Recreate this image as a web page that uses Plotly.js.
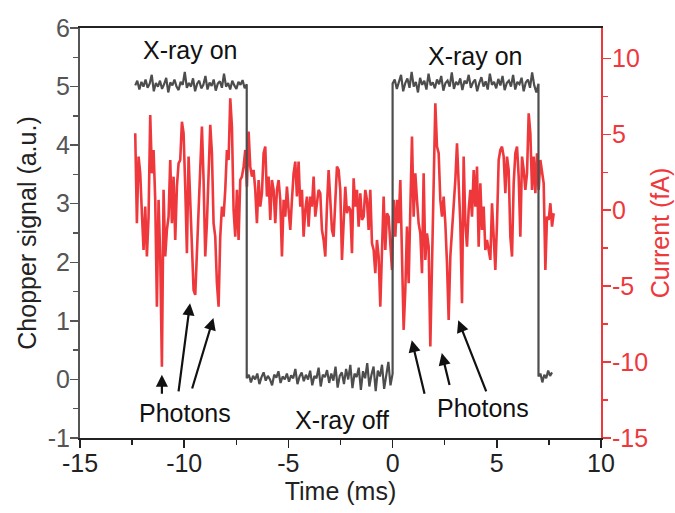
<!DOCTYPE html>
<html>
<head>
<meta charset="utf-8">
<script src="https://cdn.plot.ly/plotly-3.0.1.min.js"></script>
<style>html,body{margin:0;padding:0;background:#fff;}#chart{width:675px;height:513px;}</style>
</head>
<body>
<div id="chart"></div>
<script>
// ---- Current (fA), sampled every 0.08 ms starting at -12.35 ms ----
const currentStart = -12.35;
const currentStep = 0.08;
const currentOn1 = [5.07,-0.86,3.53,2.43,-0.20,-2.62,0.24,-3.05,-0.42,6.27,2.43,3.97,0.68,-6.35,0.68,-3.05,-10.3,1.34,-3.05,-1.30,
  -0.42,3.31,-0.86,2.21,-1.96,1.55,3.09,3.31,5.83,5.07,1.55,-2.83,3.53,0.24,-1.96,-5.25,-5.58,-2.62,0.24,3.53,
  5.51,1.99,-3.05,-0.86,2.43,5.62,3.75,-0.86,-1.74,-4.81,-6.35,-1.74,0.24,-0.42,1.34,3.97,3.31,7.37,5.51,0.02,
  -1.74,1.34,-1.96,1.99,2.21,2.87,3.97,1.55];
const currentOff = [5.18,2.87,2.21,2.65,1.34,-0.86,1.99,0.24,1.12,3.75,4.19,0.90,2.21,-0.64,1.99,1.34,-0.86,1.34,1.99,0.68,
  -3.05,0.68,-0.42,1.55,0.02,-1.30,0.68,2.43,3.20,0.90,3.20,0.24,1.34,-1.74,0.02,0.90,-1.08,0.90,0.24,2.21,
  -0.42,0.68,1.34,1.12,-1.30,-1.96,-3.05,0.24,2.65,0.68,-1.30,-1.74,0.68,2.87,2.65,1.34,-3.27,-0.42,1.55,-0.20,
  0.24,0.02,-2.83,2.10,0.24,1.34,-1.08,1.12,-0.64,-0.42,1.34,0.68,-1.30,1.34,-2.18,-2.62,-4.15,-1.96,-3.05,-6.35,
  -2.40,0.90,-2.62,-0.20,-0.42,-2.40,-3.93];
const currentOn2 = [0.68,-1.74,0.68,-0.86,1.99,-3.05,-7.88,-5.25,-1.08,-4.81,-0.86,4.85,-0.42,2.43,0.68,-0.86,-1.52,-4.15,2.43,-3.27,
  -1.52,-2.40,-8.98,-3.49,2.43,7.04,4.19,3.75,0.68,-0.42,0.90,-0.86,-3.49,-7.22,-3.05,-1.52,0.24,1.99,4.41,1.77,
  -0.86,-6.13,3.53,-0.86,-2.40,0.02,1.34,-0.42,2.65,0.24,2.87,-2.40,1.77,-1.30,0.24,-2.62,-1.96,-2.62,-3.27,0.46,
  -1.96,-3.93,-0.86,3.31,3.97,4.19,3.53,1.12,3.53,2.65,-1.74,-3.05,1.77,3.75,4.19,2.21,-1.74,3.53,2.65,1.34,
  2.43,6.38,5.07,1.34,3.53,1.12,3.75,1.34,3.31,2.43,1.77,-3.93,-0.42,-0.64,0.46,-1.08,-0.20];

// ---- Chopper signal (a.u.), four segments with their start / end times (ms) ----
const chopperOn1Span = [-12.35, -7.0];
const chopperOn1 = [5.02,5.10,4.95,5.08,5.00,5.12,4.98,5.05,5.20,4.92,5.06,5.00,5.10,4.96,5.04,5.15,4.90,5.07,5.02,5.12,
  5.00,4.94,5.08,5.03,5.25,4.98,5.06,5.00,5.14,4.92,5.05,5.10,4.97,5.03,5.18,4.95,5.07,5.01,5.12,4.93,
  5.05,5.09,4.98,5.22,5.00,5.06,4.95,5.10,5.02,4.96,5.08,5.03,5.11,4.97,5.04];
const chopperOff1Span = [-7.0, 0.0];
const chopperOff1 = [0.02,0.08,-0.05,0.06,0.00,0.10,-0.08,0.04,0.12,-0.02,0.06,0.00,-0.10,0.08,0.03,0.14,-0.06,0.05,0.00,0.10,
  -0.04,0.07,0.02,0.18,-0.08,0.05,0.12,-0.03,0.08,0.00,0.15,-0.10,0.06,0.02,0.20,-0.12,0.08,0.04,0.16,-0.06,
  0.10,-0.02,0.22,-0.14,0.06,0.12,-0.08,0.18,0.00,0.25,-0.15,0.10,0.04,0.20,-0.18,0.14,0.02,0.28,-0.12,0.08,
  0.22,-0.20,0.15,0.05,0.25,-0.16,0.12,0.30,-0.10,0.10];
const chopperOn2Span = [0.0, 7.0];
const chopperOn2 = [5.05,5.12,4.96,5.08,5.20,4.92,5.06,5.14,4.98,5.25,5.00,5.08,4.90,5.15,5.03,5.10,4.95,5.22,5.02,5.07,
  4.97,5.12,5.04,5.18,4.93,5.06,5.10,5.00,5.24,4.96,5.08,5.03,5.14,4.94,5.10,5.05,5.20,4.98,5.07,5.12,
  4.92,5.06,5.16,5.00,5.09,4.95,5.22,5.03,5.08,4.97,5.13,5.02,5.18,4.94,5.06,5.10,5.00,5.20,4.95,5.08,
  5.04,5.15,4.92,5.07,5.12,4.98,5.24,5.02,4.90,5.05];
const chopperOff2Span = [7.0, 7.65];
const chopperOff2 = [0.05,0.10,-0.05,0.08,0.02,0.15,0.06,0.12];

// ---- tick labels (plain hyphen minus as in the original) ----
const xTicks = [-15, -10, -5, 0, 5, 10];
const xTickText = ['-15', '-10', '-5', '0', '5', '10'];
const yTicks = [-1, 0, 1, 2, 3, 4, 5, 6];
const yTickText = ['-1', '0', '1', '2', '3', '4', '5', '6'];
const y2Ticks = [-15, -10, -5, 0, 5, 10];
const y2TickText = ['-15', '-10', '-5', '0', '5', '10'];

// ---- labels ----
const xTitle = 'Time (ms)';
const yTitle = 'Chopper signal (a.u.)';
const y2Title = 'Current (fA)';
const onLabel = 'X-ray on';
const offLabel = 'X-ray off';
const photonLabel = 'Photons';

// build arrays
const currentY = currentOn1.concat(currentOff, currentOn2);
const currentX = currentY.map((_, i) => currentStart + i * currentStep);
function spanTimes(span, vals) {
  const n = vals.length;
  return vals.map((_, i) => span[0] + i * (span[1] - span[0]) / (n - 1));
}
const chopX = [].concat(spanTimes(chopperOn1Span, chopperOn1), spanTimes(chopperOff1Span, chopperOff1),
  spanTimes(chopperOn2Span, chopperOn2), spanTimes(chopperOff2Span, chopperOff2));
const chopY = [].concat(chopperOn1, chopperOff1, chopperOn2, chopperOff2);

const RED = 'rgb(238,56,60)';
const GRAY = '#4d4d4d';
const FONT = 'Liberation Sans, Arial, sans-serif';
const FS = 25;

const traces = [
  {x: currentX, y: currentY, type: 'scatter', mode: 'lines', yaxis: 'y2',
   line: {color: RED, width: 2.6}, hoverinfo: 'skip'},
  {x: chopX, y: chopY, type: 'scatter', mode: 'lines', yaxis: 'y',
   line: {color: GRAY, width: 2.2}, hoverinfo: 'skip'}
];

function arrow(hx, hy, tx, ty) {
  return {x: hx, y: hy, ax: tx, ay: ty, xref: 'x', yref: 'y', axref: 'x', ayref: 'y',
    text: '', showarrow: true, arrowhead: 2, arrowsize: 1.1, arrowwidth: 2.2, arrowcolor: '#111'};
}
function label(txt, x, y) {
  return {x: x, y: y, xref: 'x', yref: 'y', text: txt, showarrow: false,
    font: {family: FONT, size: FS, color: '#111'}, xanchor: 'center', yanchor: 'middle'};
}

const layout = {
  width: 675, height: 513,
  margin: {l: 80, r: 74, t: 28, b: 75},
  paper_bgcolor: '#fff', plot_bgcolor: '#fff',
  showlegend: false,
  font: {family: FONT, size: FS, color: '#222'},
  xaxis: {
    range: [-15, 10], tickmode: 'array', tickvals: xTicks, ticktext: xTickText,
    ticks: 'outside', ticklen: 8, tickwidth: 1.5, tickcolor: '#222', ticklabelstandoff: -6,
    minor: {tickmode: 'linear', tick0: 0, dtick: 2.5, ticks: 'outside', ticklen: 5, tickcolor: '#222', tickwidth: 1.5},
    showline: true, linecolor: '#222', linewidth: 2, mirror: true, showgrid: false, zeroline: false,
    tickfont: {family: FONT, size: FS, color: '#222'},
    title: {text: xTitle, font: {family: FONT, size: FS, color: '#222'}, standoff: 2}
  },
  yaxis: {
    range: [-1, 6], tickmode: 'array', tickvals: yTicks, ticktext: yTickText,
    ticks: 'outside', ticklen: 8, tickwidth: 1.5, tickcolor: '#555', ticklabelstandoff: -5,
    minor: {tickmode: 'linear', tick0: 0, dtick: 0.5, ticks: 'outside', ticklen: 5, tickcolor: '#555', tickwidth: 1.5},
    showline: true, linecolor: '#555', linewidth: 2, showgrid: false, zeroline: false,
    side: 'left', overlaying: 'y2',
    tickfont: {family: FONT, size: FS, color: '#555'},
    title: {text: yTitle, font: {family: FONT, size: FS, color: '#222'}, standoff: 4}
  },
  yaxis2: {
    range: [-15, 12], tickmode: 'array', tickvals: y2Ticks, ticktext: y2TickText,
    ticks: 'outside', ticklen: 8, tickwidth: 1.5, tickcolor: RED, ticklabelstandoff: -4,
    minor: {tickmode: 'linear', tick0: 0, dtick: 2.5, ticks: 'outside', ticklen: 5, tickcolor: RED, tickwidth: 1.5},
    showline: true, linecolor: RED, linewidth: 2, showgrid: false, zeroline: false,
    side: 'right', anchor: 'x',
    tickfont: {family: FONT, size: FS, color: RED},
    title: {text: y2Title, font: {family: FONT, size: FS, color: RED}, standoff: 4}
  },
  annotations: [
    label(onLabel, -9.72, 5.62),
    label(onLabel, 3.95, 5.52),
    label(offLabel, -2.43, -0.69),
    label(photonLabel, -9.96, -0.57),
    label(photonLabel, 4.34, -0.49),
    arrow(-11.07, 0.08, -11.07, -0.27),
    arrow(-9.72, 1.30, -10.28, -0.23),
    arrow(-8.60, 1.05, -9.64, -0.18),
    arrow(0.92, 0.67, 1.55, -0.27),
    arrow(2.36, 0.45, 2.75, -0.12),
    arrow(3.15, 1.01, 4.52, -0.23)
  ]
};

Plotly.newPlot('chart', traces, layout, {staticPlot: true, displayModeBar: false});
</script>
</body>
</html>
